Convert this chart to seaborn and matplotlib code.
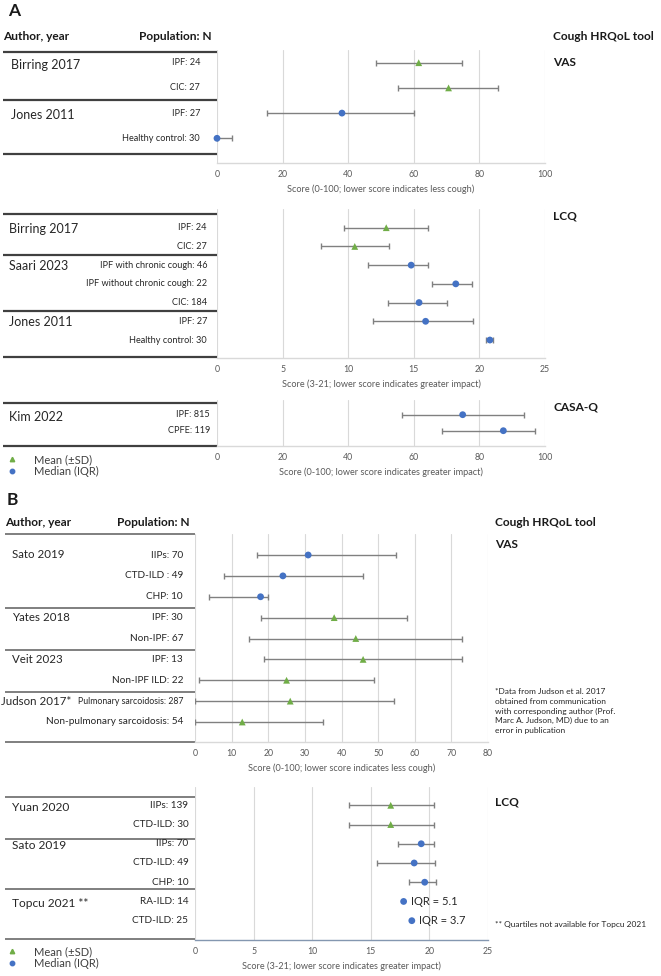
import matplotlib.pyplot as plt
import numpy as np
import pandas as pd
import seaborn as sns
from matplotlib.lines import Line2D

sns.set_theme(style="white")
plt.rcParams["font.family"] = ["Lato", "DejaVu Sans"]

W, H = 661, 976
PAL = {"Mean": "#70ad47", "Median": "#4472c4"}
MARK = {"Mean": "^", "Median": "o"}

# ---------------- Panel A: VAS ----------------
a_vas_studies = ["Birring 2017", "Jones 2011"]
a_vas_sizes = [2, 2]
a_vas_pop = ["IPF: 24", "CIC: 27", "IPF: 27", "Healthy control: 30"]
a_vas_stat = ["Mean", "Mean", "Median", "Median"]
a_vas_mid = [61.5, 70.6, 38.1, 0.0]
a_vas_lo = [48.5, 55.3, 15.2, 0.0]
a_vas_hi = [74.6, 85.8, 60.0, 4.6]

# ---------------- Panel A: LCQ ----------------
a_lcq_studies = ["Birring 2017", "Saari 2023", "Jones 2011"]
a_lcq_sizes = [2, 3, 2]
a_lcq_pop = ["IPF: 24", "CIC: 27", "IPF with chronic cough: 46",
             "IPF without chronic cough: 22", "CIC: 184", "IPF: 27",
             "Healthy control: 30"]
a_lcq_stat = ["Mean", "Mean", "Median", "Median", "Median", "Median", "Median"]
a_lcq_mid = [12.9, 10.5, 14.8, 18.2, 15.4, 15.9, 20.8]
a_lcq_lo = [9.7, 7.9, 11.5, 16.4, 13.0, 11.9, 20.5]
a_lcq_hi = [16.1, 13.1, 16.1, 19.4, 17.5, 19.5, 21.05]

# ---------------- Panel A: CASA-Q ----------------
a_casa_studies = ["Kim 2022"]
a_casa_sizes = [2]
a_casa_pop = ["IPF: 815", "CPFE: 119"]
a_casa_stat = ["Median", "Median"]
a_casa_mid = [74.9, 87.3]
a_casa_lo = [56.3, 68.7]
a_casa_hi = [93.7, 96.8]

# ---------------- Panel B: VAS ----------------
b_vas_studies = ["Sato 2019", "Yates 2018", "Veit 2023", "Judson 2017*"]
b_vas_sizes = [3, 2, 2, 2]
b_vas_pop = ["IIPs: 70", "CTD-ILD : 49", "CHP: 10", "IPF: 30", "Non-IPF: 67",
             "IPF: 13", "Non-IPF ILD: 22", "Pulmonary sarcoidosis: 287",
             "Non-pulmonary sarcoidosis: 54"]
b_vas_stat = ["Median", "Median", "Median", "Mean", "Mean", "Mean", "Mean",
              "Mean", "Mean"]
b_vas_mid = [30.9, 24.0, 17.9, 38.0, 43.9, 45.9, 25.0, 26.0, 12.9]
b_vas_lo = [17.0, 8.0, 3.9, 17.9, 14.8, 18.9, 1.0, 0.0, 0.0]
b_vas_hi = [55.0, 46.0, 19.9, 57.9, 73.0, 73.0, 49.0, 54.2, 34.9]

# ---------------- Panel B: LCQ ----------------
b_lcq_studies = ["Yuan 2020", "Sato 2019", "Topcu 2021 **"]
b_lcq_sizes = [2, 3, 2]
b_lcq_pop = ["IIPs: 139", "CTD-ILD: 30", "IIPs: 70", "CTD-ILD: 49", "CHP: 10",
             "RA-ILD: 14", "CTD-ILD: 25"]
b_lcq_stat = ["Mean", "Mean", "Median", "Median", "Median", "Median", "Median"]
b_lcq_mid = [16.7, 16.7, 19.3, 18.7, 19.6, 17.8, 18.5]
b_lcq_lo = [13.1, 13.1, 17.3, 15.5, 18.3, np.nan, np.nan]
b_lcq_hi = [20.4, 20.4, 20.4, 20.5, 20.6, np.nan, np.nan]
b_lcq_note = ["", "", "", "", "", "IQR = 5.1", "IQR = 3.7"]


def make_df(pop, stat, mid, lo, hi):
    df = pd.DataFrame({"pop": pop, "stat": stat, "mid": mid, "lo": lo, "hi": hi})
    df["row"] = np.arange(len(df))
    return df


fig = plt.figure(figsize=(W / 100, H / 100), dpi=100)
canvas = fig.add_axes([0, 0, 1, 1])
canvas.set_xlim(0, W)
canvas.set_ylim(H, 0)
canvas.axis("off")


def forest(df, box, row0, step, xmax, xstep, xlabel, base="#d9d9d9"):
    x0, x1, yt, yb = box
    ax = fig.add_axes([x0 / W, 1 - yb / H, (x1 - x0) / W, (yb - yt) / H])
    ax.set_facecolor("none")
    e = df.dropna(subset=["lo", "hi"])
    ax.errorbar(e["mid"], e["row"], xerr=[e["mid"] - e["lo"], e["hi"] - e["mid"]],
                fmt="none", ecolor="#808080", elinewidth=1.0, capsize=2.5,
                capthick=1.0, zorder=2)
    sns.scatterplot(data=df, x="mid", y="row", hue="stat", style="stat",
                    palette=PAL, markers=MARK, s=24, edgecolor="none",
                    legend=False, ax=ax, zorder=3)
    ax.collections[-1].set_clip_on(False)
    ax.set_xlim(0, xmax)
    ax.set_ylim((yb - row0) / step, (yt - row0) / step)
    ticks = np.arange(0, xmax + 0.01, xstep)
    ax.set_xticks(ticks)
    ax.set_xticklabels([f"{t:g}" for t in ticks])
    ax.set_yticks([])
    ax.set_ylabel("")
    ax.grid(axis="x", color="#d9d9d9", lw=0.8)
    for s in ["top", "left", "right"]:
        ax.spines[s].set_visible(False)
    ax.spines["bottom"].set_color(base)
    ax.spines["bottom"].set_linewidth(1.0)
    ax.tick_params(axis="x", length=0, labelsize=6.3, labelcolor="#595959", pad=5)
    ax.set_xlabel(xlabel, fontsize=6.6, color="#595959", labelpad=4)
    return ax


def table(studies, sizes, pops, row0, step, lines, xr, study_x, pop_x,
          fs_study, fs_pop, lcolor, lw, dy=0):
    first = np.cumsum([0] + sizes[:-1])
    for name, i, sx in zip(studies, first, study_x):
        canvas.text(sx, row0 + i * step + dy, name, fontsize=fs_study, ha="left",
                    va="center", color="#262626")
    for i, (p, fs) in enumerate(zip(pops, fs_pop)):
        canvas.text(pop_x, row0 + i * step, p, fontsize=fs, ha="right",
                    va="center", color="#262626")
    canvas.hlines(lines, xr[0], xr[1], color=lcolor, lw=lw)


bold = dict(fontsize=8.6, fontweight="bold", color="#1a1a1a", va="center")

# ================= Panel A =================
canvas.text(8, 11, "A", fontsize=12.5, fontweight="bold", va="center", color="#1a1a1a")
canvas.text(3, 37, "Author, year", ha="left", **bold)
canvas.text(212, 37, "Population: N", ha="right", **bold)
canvas.text(553, 37, "Cough HRQoL tool", ha="left", **bold)

df = make_df(a_vas_pop, a_vas_stat, a_vas_mid, a_vas_lo, a_vas_hi)
forest(df, (217, 545, 50, 163), 62.7, 25.2, 100, 20,
       "Score (0-100; lower score indicates less cough)")
table(a_vas_studies, a_vas_sizes, a_vas_pop, 62.7, 25.2, [51.7, 99.8, 154],
      (3, 217), [11, 11], 200, 9.0, [6.6] * 4, "#404040", 1.6, dy=2)
canvas.text(553, 62, "VAS", ha="left", **bold)

df = make_df(a_lcq_pop, a_lcq_stat, a_lcq_mid, a_lcq_lo, a_lcq_hi)
forest(df, (217, 545, 209, 358), 227.7, 18.72, 25, 5,
       "Score (3-21; lower score indicates greater impact)")
table(a_lcq_studies, a_lcq_sizes, a_lcq_pop, 227.7, 18.72, [214.3, 254.8, 311.3, 357.3],
      (3, 217), [9, 9, 9], 207, 9.0, [6.6] * 7, "#404040", 1.6, dy=1)
canvas.text(553, 216, "LCQ", ha="left", **bold)

df = make_df(a_casa_pop, a_casa_stat, a_casa_mid, a_casa_lo, a_casa_hi)
forest(df, (217, 545, 400, 445.7), 414.7, 16, 100, 20,
       "Score (0-100; lower score indicates greater impact)")
table(a_casa_studies, a_casa_sizes, a_casa_pop, 414.7, 16, [403.3, 445.7],
      (3, 217), [9], 210, 9.0, [6.6] * 2, "#404040", 1.6, dy=2)
canvas.text(553, 407, "CASA-Q", ha="left", **bold)

key = [Line2D([], [], marker="^", color=PAL["Mean"], ls="none", ms=3.2),
       Line2D([], [], marker="o", color=PAL["Median"], ls="none", ms=3.2)]
key_labels = ["Mean (±SD)", "Median (IQR)"]
fig.legend(key, key_labels, loc="upper left", bbox_to_anchor=(6 / W, 1 - 454 / H),
           frameon=False, fontsize=8, handlelength=1.0, handletextpad=1.5,
           labelspacing=0.05, borderpad=0, borderaxespad=0, labelcolor="#404040")

# ================= Panel B =================
canvas.text(7, 500, "B", fontsize=12.5, fontweight="bold", va="center", color="#1a1a1a")
canvas.text(5, 523, "Author, year", ha="left", **bold)
canvas.text(190, 523, "Population: N", ha="right", **bold)
canvas.text(495, 523, "Cough HRQoL tool", ha="left", **bold)

df = make_df(b_vas_pop, b_vas_stat, b_vas_mid, b_vas_lo, b_vas_hi)
forest(df, (195, 488, 534.3, 741.7), 555, 20.875, 80, 10,
       "Score (0-100; lower score indicates less cough)")
pop_fs = [7.2] * 9
pop_fs[7] = 6.3
table(b_vas_studies, b_vas_sizes, b_vas_pop, 555, 20.875,
      [534.3, 608.3, 650, 691.5, 741.7], (5, 195), [12, 12, 12, 1], 183,
      8.3, pop_fs, "#7f7f7f", 1.4)
canvas.text(495, 544, "VAS", ha="left", **bold)
canvas.text(495, 688, "*Data from Judson et al. 2017\nobtained from communication\n"
            "with corresponding author (Prof.\nMarc A. Judson, MD) due to an\n"
            "error in publication", fontsize=6, va="top", ha="left",
            color="#262626", linespacing=1.45)

df = make_df(b_lcq_pop, b_lcq_stat, b_lcq_mid, b_lcq_lo, b_lcq_hi)
ax = forest(df, (195, 488, 786.7, 940), 805.3, 19.23, 25, 5,
            "Score (3-21; lower score indicates greater impact)", base="#8497b0")
for r, note in zip(df.itertuples(), b_lcq_note):
    if note:
        ax.annotate(note, (r.mid, r.row), xytext=(5, 0), textcoords="offset points",
                    fontsize=8, va="center", color="#262626")
table(b_lcq_studies, b_lcq_sizes, b_lcq_pop, 805.3, 19.23,
      [797.3, 838.5, 889, 939.3], (5, 195), [12, 12, 12], 188.5,
      8.6, [7.2] * 7, "#7f7f7f", 1.4, dy=2)
canvas.text(495, 802, "LCQ", ha="left", **bold)
canvas.text(495, 925, "** Quartiles not available for Topcu 2021", fontsize=6,
            va="center", ha="left", color="#262626")

fig.legend(key, key_labels, loc="upper left", bbox_to_anchor=(6 / W, 1 - 946 / H),
           frameon=False, fontsize=8, handlelength=1.0, handletextpad=1.5,
           labelspacing=0.05, borderpad=0, borderaxespad=0, labelcolor="#404040")

fig.savefig("out.png", dpi=100)
